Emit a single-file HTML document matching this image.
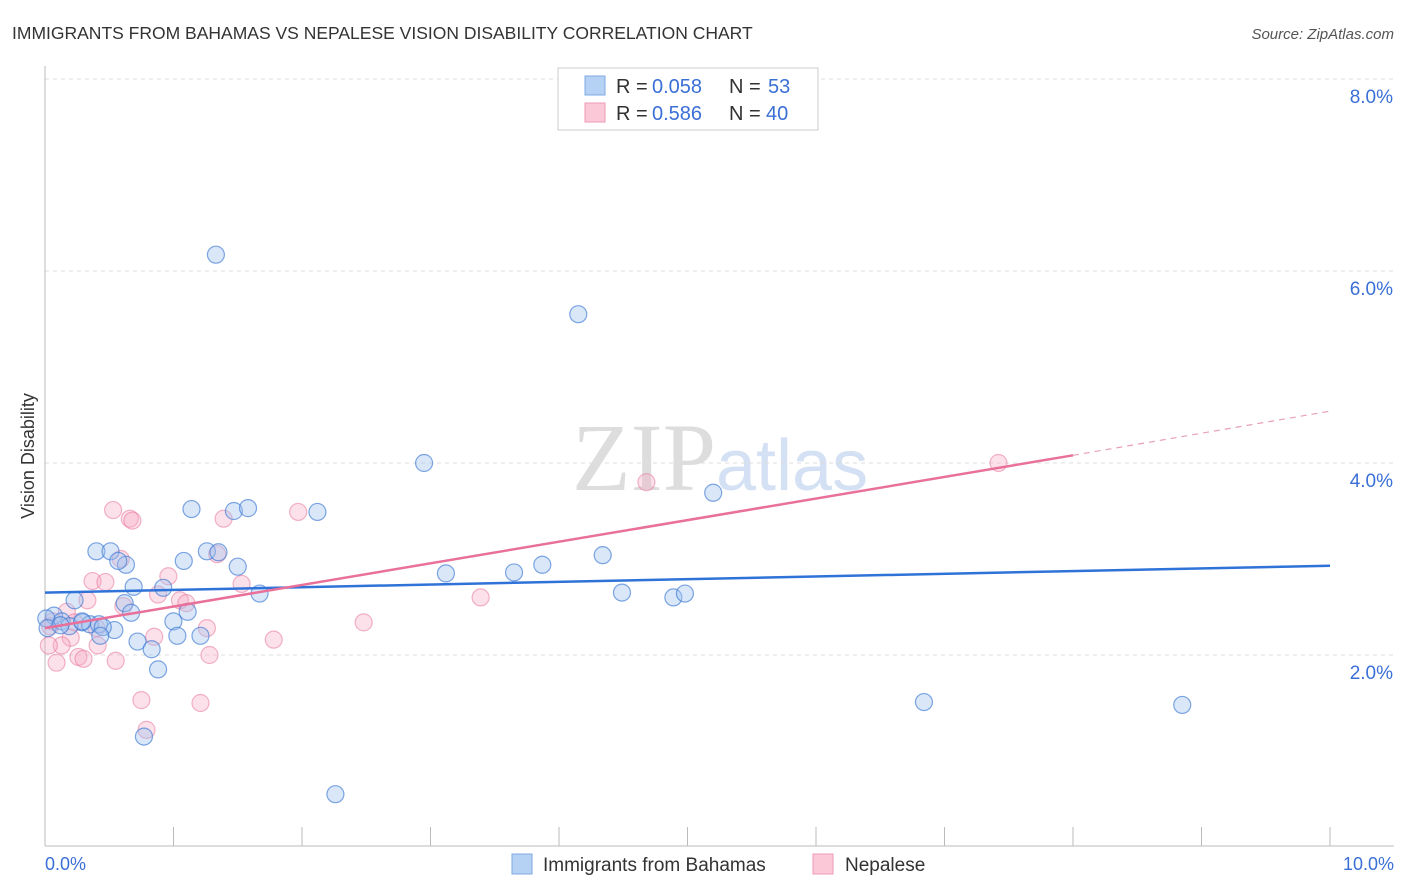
<!DOCTYPE html>
<html><head><meta charset="utf-8">
<style>
body{margin:0;background:#fff;font-family:"Liberation Sans",sans-serif;}
#wrap{position:relative;width:1406px;height:892px;overflow:hidden;}
</style></head>
<body>
<div id="wrap">
<svg id="svg" width="1406" height="892" xmlns="http://www.w3.org/2000/svg">
<text x="12" y="39" font-size="17.5" fill="#333">IMMIGRANTS FROM BAHAMAS VS NEPALESE VISION DISABILITY CORRELATION CHART</text>
<text x="1394" y="39" font-size="15" fill="#555" font-style="italic" text-anchor="end">Source: ZipAtlas.com</text>
<text x="34" y="456" font-size="18" fill="#333" transform="rotate(-90 34 456)" text-anchor="middle">Vision Disability</text>
<text x="716" y="490" font-size="96" fill="#ddd" font-family="Liberation Serif,serif" text-anchor="end">ZIP</text>
<text x="716" y="490" font-size="72" fill="#d4e0f3" text-anchor="start">atlas</text>
<g id="grid"></g>
<g id="pts"></g>
<g id="lines"></g>
<g>
<rect x="558" y="68" width="260" height="62" fill="#fff" stroke="#ccc"/>
<rect x="585" y="76" width="20" height="19" fill="#b5d1f3" stroke="#7fa9e3"/>
<rect x="585" y="103" width="20" height="19" fill="#fbc8d7" stroke="#ef9ab5"/>
<text y="93" font-size="20" fill="#333"><tspan x="616">R =</tspan><tspan x="652" fill="#3a6fd6">0.058</tspan><tspan x="729">N =</tspan><tspan x="768" fill="#3a6fd6">53</tspan></text>
<text y="120" font-size="20" fill="#333"><tspan x="616">R =</tspan><tspan x="652" fill="#3a6fd6">0.586</tspan><tspan x="729">N =</tspan><tspan x="766" fill="#3a6fd6">40</tspan></text>
</g>
<g>
<rect x="512" y="854" width="20" height="20" fill="#b5d1f3" stroke="#7fa9e3"/>
<text x="543" y="871" font-size="19" fill="#333">Immigrants from Bahamas</text>
<rect x="813" y="854" width="20" height="20" fill="#fbc8d7" stroke="#ef9ab5"/>
<text x="845" y="871" font-size="19" fill="#333">Nepalese</text>
</g>
<text x="45" y="870" font-size="18" fill="#3a6fd6">0.0%</text>
<text x="1394" y="870" font-size="18" fill="#3a6fd6" text-anchor="end">10.0%</text>
</svg>
</div>
<script>
const yTicks=[2,4,6,8];
const yTickLabels=["2.0%","4.0%","6.0%","8.0%"];
const blueX=[1.33,4.15,2.95,5.2,1.14,1.47,1.58,2.12,0.4,0.51,0.63,1.26,1.35,0.57,1.08,1.5,4.34,3.12,3.65,3.87,0.69,0.92,1.67,4.49,4.89,4.98,0.62,0.23,0.67,1.11,0.07,0.13,0.29,0.35,0.42,0.54,0.45,0.999,0.72,0.83,1.03,1.21,0.43,0.88,6.84,8.85,0.77,2.26,0.01,0.19,0.02,0.29,0.12];
const blueY=[6.17,5.55,4.0,3.69,3.52,3.5,3.53,3.49,3.08,3.08,2.94,3.08,3.07,2.98,2.98,2.92,3.04,2.85,2.86,2.94,2.71,2.7,2.64,2.65,2.6,2.64,2.54,2.57,2.44,2.45,2.41,2.35,2.34,2.32,2.32,2.26,2.29,2.35,2.14,2.06,2.2,2.2,2.2,1.85,1.51,1.48,1.15,0.55,2.38,2.3,2.28,2.35,2.31];
const pinkX=[7.42,4.68,0.53,0.66,0.68,1.39,1.97,1.34,0.59,0.37,0.47,0.96,0.06,1.53,0.88,1.05,1.1,0.61,0.33,0.17,2.48,3.39,1.26,0.4,0.23,0.2,0.85,1.78,0.13,0.03,0.41,0.26,0.3,1.28,0.55,0.09,0.75,1.21,0.79,0.04];
const pinkY=[4.0,3.8,3.51,3.42,3.4,3.42,3.49,3.05,3.0,2.77,2.76,2.82,2.35,2.74,2.63,2.57,2.54,2.51,2.57,2.45,2.34,2.6,2.28,2.28,2.34,2.18,2.19,2.16,2.1,2.1,2.1,1.98,1.96,2.0,1.94,1.92,1.53,1.50,1.22,2.3];
const blueTrend=[2.65,2.93];
const pinkTrend=[2.28,4.08,4.54];
const NS="http://www.w3.org/2000/svg";
const X=v=>45+v*128.5, Y=v=>847-v*96;
const grid=document.getElementById('grid'),pts=document.getElementById('pts'),lines=document.getElementById('lines');
function mk(t,a,p){const e=document.createElementNS(NS,t);for(const k in a)e.setAttribute(k,a[k]);p.appendChild(e);return e;}
yTicks.forEach((t,i)=>{
 const l=mk('line',{x1:45,x2:1394,y1:Y(t),y2:Y(t),stroke:'#ddd','stroke-dasharray':'4,4'},grid);
 
 
 const tx=mk('text',{x:1393,y:Y(t)+24,'font-size':19,fill:'#3a6fd6','text-anchor':'end'},grid);
 tx.textContent=yTickLabels[i];
 
 
});
mk('line',{x1:45,x2:45,y1:66,y2:846,stroke:'#bbb'},grid);
mk('line',{x1:45,x2:1394,y1:846,y2:846,stroke:'#bbb'},grid);
for(let i=1;i<=10;i++){mk('line',{x1:X(i),x2:X(i),y1:827,y2:846,stroke:'#bbb'},grid);}
pinkX.forEach((x,i)=>{
 const c=mk('circle',{cx:X(x),cy:Y(pinkY[i]),r:8.5,fill:'rgba(247,170,195,0.35)',stroke:'rgba(232,120,155,0.55)','stroke-width':1.2},pts);
 
 
});
blueX.forEach((x,i)=>{
 const c=mk('circle',{cx:X(x),cy:Y(blueY[i]),r:8.5,fill:'rgba(160,195,240,0.4)',stroke:'rgba(60,120,210,0.65)','stroke-width':1.2},pts);
 
 
});
const bl=mk('line',{x1:X(0),y1:Y(blueTrend[0]),x2:X(10),y2:Y(blueTrend[1]),stroke:'#2f72d8','stroke-width':2.5},lines);


const pl=mk('line',{x1:X(0),y1:Y(pinkTrend[0]),x2:X(8),y2:Y(pinkTrend[1]),stroke:'#e8709a','stroke-width':2.5},lines);


const pd=mk('line',{x1:X(8),y1:Y(pinkTrend[1]),x2:X(10),y2:Y(pinkTrend[2]),stroke:'#e8a0b8','stroke-width':1.2,'stroke-dasharray':'6,5'},lines);


</script>
</body></html>
